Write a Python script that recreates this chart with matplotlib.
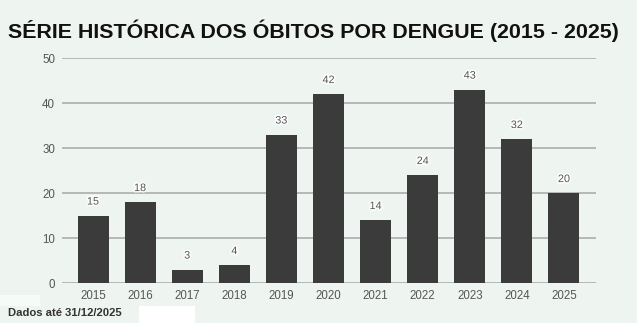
import matplotlib
matplotlib.use("Agg")
import matplotlib.pyplot as plt
import matplotlib.patheffects as pe

years = ["2015", "2016", "2017", "2018", "2019", "2020", "2021", "2022", "2023", "2024", "2025"]
deaths = [15, 18, 3, 4, 33, 42, 14, 24, 43, 32, 20]
yticks = [0, 10, 20, 30, 40, 50]

bg = "#eef5f1"
fig = plt.figure(figsize=(6.37, 3.23), dpi=100, facecolor=bg)
ax = fig.add_axes([0.0973, 0.1238, 0.8383, 0.6966], facecolor=bg)

x = range(len(years))
ax.bar(x, deaths, width=0.66, color="#3b3b3b", zorder=3)
for xi, v in zip(x, deaths):
    ax.text(xi, v + 3.1, str(v), ha="center", va="center", fontsize=7.8,
            color="#555555", family="Liberation Sans", zorder=4,
            path_effects=[pe.withStroke(linewidth=2, foreground="white")])

ax.set_xlim(-0.66, 10.68)
ax.set_ylim(0, 50)
ax.set_yticks(yticks)
ax.set_xticks(list(x))
ax.set_xticklabels(years)
ax.grid(axis="y", color="#a5a8a6", linewidth=1.1, zorder=0)
ax.tick_params(axis="both", length=0, labelsize=8.3, labelcolor="#555555", pad=5)
for lbl in ax.get_xticklabels() + ax.get_yticklabels():
    lbl.set_family("Liberation Sans")
for s in ax.spines.values():
    s.set_visible(False)

fig.text(0.0125, 0.905, "SÉRIE HISTÓRICA DOS ÓBITOS POR DENGUE (2015 - 2025)",
         fontsize=15.4, fontweight="bold", family="Liberation Sans", color="#111111",
         ha="left", va="center")
fig.text(0.0125, 0.03, "Dados até 31/12/2025", fontsize=8.1, fontweight="bold",
         family="Liberation Sans", color="#333333", ha="left", va="center")
fig.patches.append(plt.Rectangle((0.218, 0.0), 0.088, 0.053, transform=fig.transFigure,
                                 facecolor="white", edgecolor="none"))
fig.patches.append(plt.Rectangle((0.0, 0.053), 0.063, 0.034, transform=fig.transFigure,
                                 facecolor="#f6faf8", edgecolor="none"))

fig.savefig("out.png", dpi=100, facecolor=bg)
